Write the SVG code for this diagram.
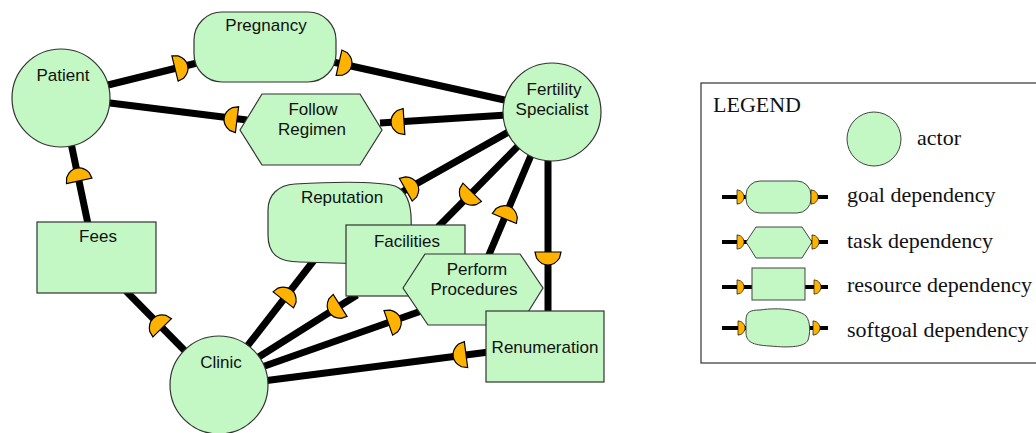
<svg xmlns="http://www.w3.org/2000/svg" width="1036" height="433" viewBox="0 0 1036 433">
<style>
.node{fill:#c3f7c3;stroke:#333;stroke-width:1.2}
.lbl{font-family:"Liberation Sans",Arial,sans-serif;font-size:17px;fill:#111;text-anchor:middle}
.dep{stroke:#000;stroke-width:7;fill:none}
.leg{font-family:"Liberation Serif","Times New Roman",serif;font-size:22px;fill:#111}
.legline{stroke:#000;stroke-width:4;fill:none}
.legnode{fill:#c3f7c3;stroke:#444;stroke-width:1}
</style>
<defs>
<path id="d" d="M0,-13 L0,13 L6,11.5 Q13,7 13,0 Q13,-7 6,-11.5 Z" fill="#ffb300" stroke="#000" stroke-width="1.2"/>
</defs>
<rect width="1036" height="433" fill="#fff"/>
<g id="connectors">
<line class="dep" x1="104" y1="86" x2="197" y2="63"/>
<line class="dep" x1="333" y1="62" x2="509" y2="101"/>
<line class="dep" x1="106" y1="102.5" x2="247" y2="120"/>
<line class="dep" x1="380" y1="123" x2="507" y2="115"/>
<line class="dep" x1="71" y1="143" x2="88" y2="224"/>
<line class="dep" x1="126" y1="291" x2="189" y2="355"/>
<line class="dep" x1="245" y1="349" x2="315" y2="259"/>
<line class="dep" x1="393" y1="197" x2="512" y2="130"/>
<line class="dep" x1="438" y1="227" x2="520" y2="144"/>
<line class="dep" x1="254" y1="360" x2="357" y2="295"/>
<line class="dep" x1="259" y1="368" x2="427" y2="309"/>
<line class="dep" x1="488" y1="257" x2="532" y2="153"/>
<line class="dep" x1="548" y1="158" x2="548" y2="313"/>
<line class="dep" x1="263" y1="381" x2="489" y2="352"/>
<use href="#d" transform="translate(175,68.5) rotate(-13.9)"/>
<use href="#d" transform="translate(339,62.7) rotate(12.7)"/>
<use href="#d" transform="translate(237,119.7) rotate(187.1)"/>
<use href="#d" transform="translate(404,121.6) rotate(176.3)"/>
<use href="#d" transform="translate(79.2,180.9) rotate(-102)"/>
<use href="#d" transform="translate(162.2,327.8) rotate(-134.5)"/>
<use href="#d" transform="translate(283.3,299.9) rotate(-51.9)"/>
<use href="#d" transform="translate(405.8,189.8) rotate(-29.5)"/>
<use href="#d" transform="translate(472.2,192.3) rotate(134.6)"/>
<use href="#d" transform="translate(340.1,305.4) rotate(147.8)"/>
<use href="#d" transform="translate(388.3,322.9) rotate(-19.4)"/>
<use href="#d" transform="translate(504.4,218.5) rotate(-67.4)"/>
<use href="#d" transform="translate(548,252) rotate(90)"/>
<use href="#d" transform="translate(466,354.6) rotate(172.7)"/>
</g>
<g id="patient">
<circle class="node" cx="61" cy="98" r="49"/>
<text class="lbl" x="63" y="81">Patient</text>
</g>
<g id="pregnancy">
<rect class="node" x="194" y="12" width="142" height="70" rx="28"/>
<text class="lbl" x="266" y="31">Pregnancy</text>
</g>
<g id="follow-regimen">
<polygon class="node" points="240,130 262,94 360,94 382,130 360,165 262,165"/>
<text class="lbl" x="313" y="115">Follow</text>
<text class="lbl" x="312" y="135">Regimen</text>
</g>
<g id="fertility-specialist">
<circle class="node" cx="552" cy="112" r="49"/>
<text class="lbl" x="554" y="95">Fertility</text>
<text class="lbl" x="552" y="115">Specialist</text>
</g>
<g id="fees">
<rect class="node" x="37" y="222" width="119" height="71"/>
<text class="lbl" x="98" y="242">Fees</text>
</g>
<g id="clinic">
<circle class="node" cx="219" cy="385" r="49"/>
<text class="lbl" x="221" y="368">Clinic</text>
</g>
<g id="reputation">
<path class="node" d="M295,184 C330,182 375,181 395,186 C410,192 412,210 411,228 L411,250 C410,262 395,264 370,264 L300,262 C278,262 268,254 268,235 L268,210 C268,195 278,185 295,184 Z"/>
<text class="lbl" x="342" y="203">Reputation</text>
</g>
<g id="facilities">
<rect class="node" x="346" y="225" width="119" height="71"/>
<text class="lbl" x="407" y="247">Facilities</text>
</g>
<g id="perform-procedures">
<polygon class="node" points="403,288 425,254 520,254 543,288 520,325 428,325"/>
<text class="lbl" x="477" y="275">Perform</text>
<text class="lbl" x="474" y="295">Procedures</text>
</g>
<g id="renumeration">
<rect class="node" x="486" y="311" width="118" height="71"/>
<text class="lbl" x="545" y="353">Renumeration</text>
</g>
<g id="legend">
<rect x="701" y="83" width="345" height="280" fill="#fff" stroke="#333" stroke-width="1.2"/>
<text class="leg" x="713" y="112">LEGEND</text>
<circle class="legnode" cx="874" cy="139" r="27"/>
<text class="leg" x="917" y="145">actor</text>
<line class="legline" x1="722" y1="197" x2="828" y2="197"/>
<rect class="legnode" x="746" y="181" width="65" height="32" rx="14"/>
<use href="#d" transform="translate(737,197) scale(0.55)"/>
<use href="#d" transform="translate(811,197) scale(0.55)"/>
<text class="leg" x="847" y="202">goal dependency</text>
<line class="legline" x1="722" y1="242" x2="828" y2="242"/>
<polygon class="legnode" points="746,242 756,227 802,227 812,242 802,258 756,258"/>
<use href="#d" transform="translate(737,242) scale(0.55)"/>
<use href="#d" transform="translate(812,242) scale(0.55)"/>
<text class="leg" x="847" y="248">task dependency</text>
<line class="legline" x1="722" y1="287" x2="828" y2="287"/>
<rect class="legnode" x="752" y="268" width="53" height="32"/>
<use href="#d" transform="translate(737,287) scale(0.55)"/>
<use href="#d" transform="translate(814,287) scale(0.55)"/>
<text class="leg" x="847" y="292">resource dependency</text>
<line class="legline" x1="722" y1="328" x2="828" y2="328"/>
<path class="legnode" d="M760,310 C780,307 800,310 806,316 C811,322 810,335 808,340 C805,347 790,348 770,346 C752,345 746,342 746,332 L746,320 C746,312 750,310 760,310 Z"/>
<use href="#d" transform="translate(738,328) scale(0.55)"/>
<use href="#d" transform="translate(813,328) scale(0.55)"/>
<text class="leg" x="847" y="337">softgoal dependency</text>
</g>
</svg>
